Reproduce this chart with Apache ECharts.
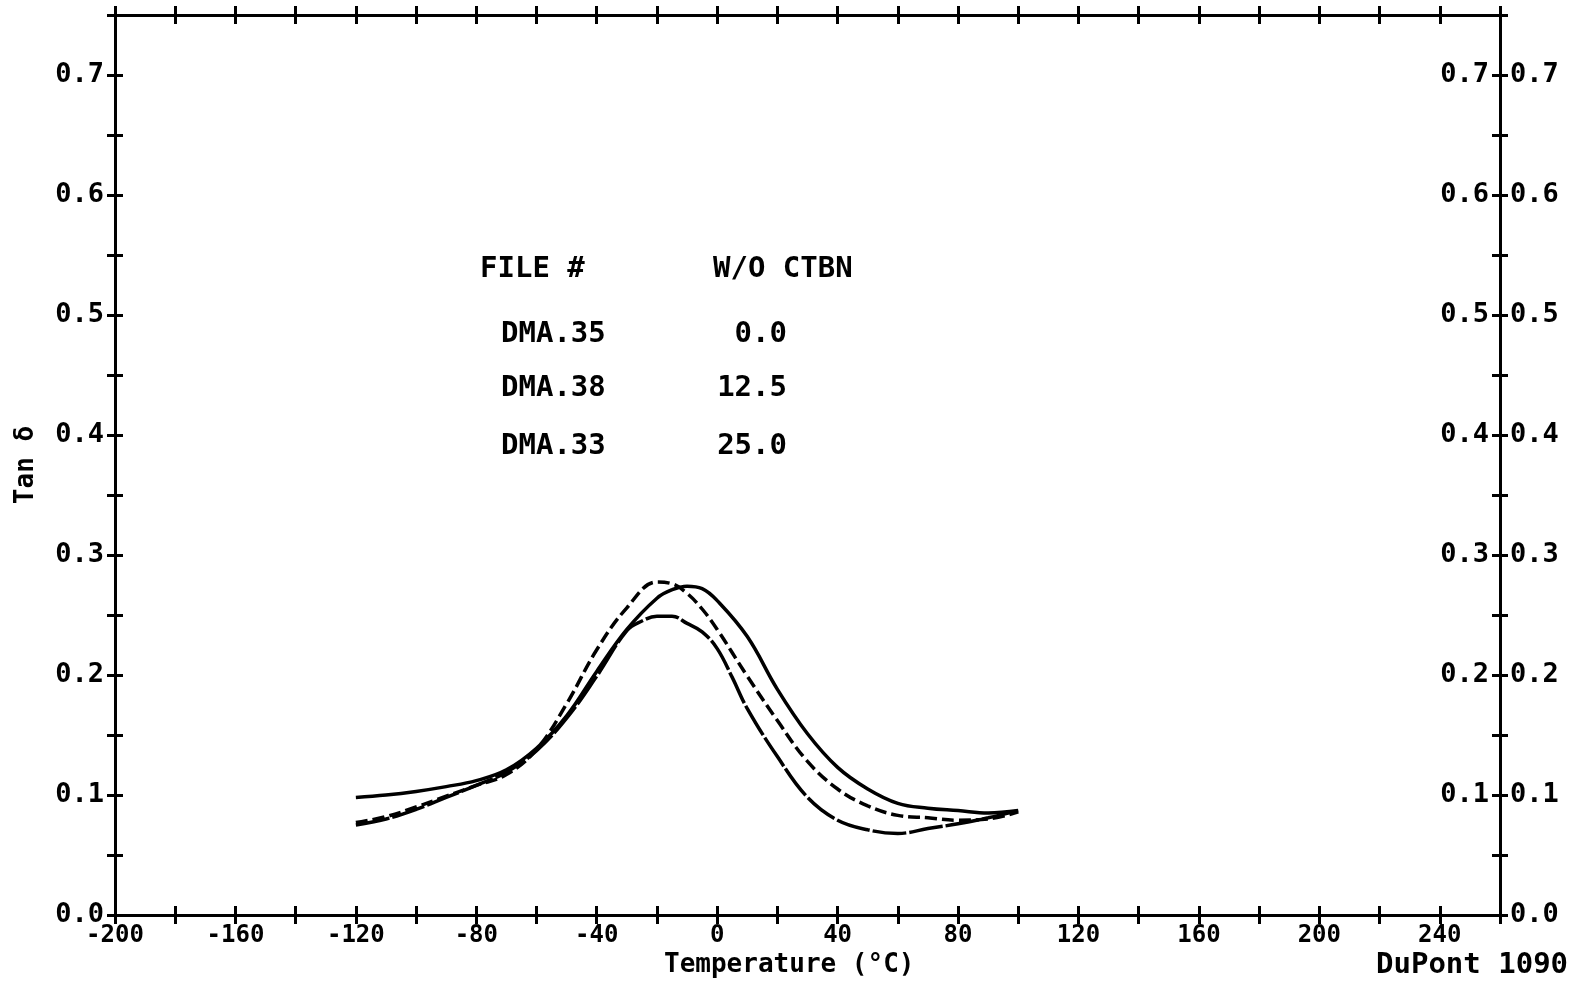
<!DOCTYPE html>
<html>
<head>
<meta charset="utf-8">
<title>Tan δ - Temperature</title>
<script src="https://cdn.jsdelivr.net/npm/echarts@6/dist/echarts.min.js"></script>
<style>
html,body{margin:0;padding:0;background:#fff;}
#main{width:1590px;height:989px;}
</style>
</head>
<body>
<div id="main"></div>
<script>
/*数据*/
//实线
var tempSolid = [-120,-110,-100,-90,-80,-70,-60,-50,-40,-30,-20,-15,-10,-5,0,10,20,30,40,50,60,70,80,90,100];
var tanSolid  = [0.098,0.100,0.103,0.107,0.112,0.121,0.139,0.166,0.203,0.238,0.264,0.271,0.274,0.272,0.262,0.232,0.188,0.151,0.123,0.105,0.093,0.089,0.087,0.085,0.087];
//虚线
var tempDash = [-120,-110,-100,-90,-80,-70,-60,-50,-40,-30,-20,-15,-10,-5,0,10,20,30,40,50,60,70,80,90,100];
var tanDash  = [0.077,0.082,0.090,0.099,0.108,0.117,0.138,0.176,0.221,0.256,0.2775,0.276,0.268,0.255,0.238,0.199,0.162,0.128,0.105,0.091,0.083,0.081,0.079,0.080,0.086];
//下面那条
var tempLow = [-120,-110,-100,-90,-80,-70,-60,-50,-40,-30,-25,-20,-15,-10,-5,0,5,10,20,30,40,50,60,70,80,90,100];
var tanLow  = [0.075,0.080,0.088,0.098,0.108,0.119,0.137,0.164,0.199,0.237,0.245,0.249,0.249,0.243,0.236,0.222,0.198,0.172,0.132,0.098,0.079,0.071,0.068,0.072,0.076,0.081,0.087];

var xLabelValues = [-200,-160,-120,-80,-40,0,40,80,120,160,200,240];
var yLabelValues = [0.0,0.1,0.2,0.3,0.4,0.5,0.6,0.7];

var fileNames = ["DMA.35","DMA.38","DMA.33"];
var ctbnValues = ["0.0","12.5","25.0"];

var plotFont = "DejaVu Sans Mono";

function toPairs(xs, ys) {
    var arr = [];
    for (var i = 0; i < xs.length; i++) {
        arr.push([xs[i], ys[i]]);
    }
    return arr;
}

function xLabelFun(v) {
    return xLabelValues.indexOf(Math.round(v)) > -1 ? String(Math.round(v)) : "";
}

function yLabelFun(v) {
    var r = Math.round(v * 100) / 100;
    for (var i = 0; i < yLabelValues.length; i++) {
        if (Math.abs(yLabelValues[i] - r) < 1e-6) return r.toFixed(1);
    }
    return "";
}

function yLabelInsideFun(v) {
    if (Math.abs(v) < 1e-6) return "";
    return yLabelFun(v);
}

function extend(a, b) {
    for (var k in b) { a[k] = b[k]; }
    return a;
}

var xLabelStyle = {color:'#000', fontFamily:plotFont, fontWeight:'bold', fontSize:24};
var yLabelStyle = {color:'#000', fontFamily:plotFont, fontWeight:'bold', fontSize:27};
var lineBlack = {color:'#000', width:3};

//坐标轴
function makeX(pos, inside, withLine, withLabel) {
    return {
        type:'value', position:pos, min:-200, max:260, interval:20,
        axisLine:{show:withLine, onZero:false, lineStyle:lineBlack},
        axisTick:{show:true, inside:inside, length:9, lineStyle:lineBlack},
        axisLabel:withLabel ? extend({show:true, margin:9, formatter:xLabelFun}, xLabelStyle) : {show:false},
        splitLine:{show:false}
    };
}

function makeY(pos, inside, withLine, label) {
    return {
        type:'value', position:pos, min:0, max:0.75, interval:0.05,
        axisLine:{show:withLine, onZero:false, lineStyle:lineBlack},
        axisTick:{show:true, inside:inside, length:8, lineStyle:lineBlack},
        axisLabel:label ? label : {show:false},
        splitLine:{show:false}
    };
}

var yLeft = makeY('left', false, true, extend({show:true, margin:11, formatter:yLabelFun}, yLabelStyle));
yLeft.name = "Tan δ";
yLeft.nameLocation = 'middle';
yLeft.nameGap = 76;
yLeft.nameRotate = 90;
yLeft.nameTextStyle = {color:'#000', fontFamily:plotFont, fontWeight:'bold', fontSize:26};

var option = {
    backgroundColor:'#fff',
    animation:false,
    grid:{left:115, right:90, top:15, bottom:74, containLabel:false},
    xAxis:[
        makeX('bottom', false, true, true),
        makeX('bottom', true, false, false),
        makeX('top', false, true, false),
        makeX('top', true, false, false)
    ],
    yAxis:[
        yLeft,
        makeY('left', true, false, null),
        makeY('right', false, true, extend({show:true, margin:10, formatter:yLabelFun}, yLabelStyle)),
        makeY('right', true, false, extend({show:true, inside:true, margin:11, formatter:yLabelInsideFun}, yLabelStyle))
    ],
    series:[
        {
            name:fileNames[0], type:'line', xAxisIndex:0, yAxisIndex:0,
            data:toPairs(tempSolid, tanSolid), smooth:0.4, showSymbol:false,
            lineStyle:{color:'#000', width:3.5}
        },
        {
            name:fileNames[1], type:'line', xAxisIndex:0, yAxisIndex:0,
            data:toPairs(tempDash, tanDash), smooth:0.4, showSymbol:false,
            lineStyle:{color:'#000', width:3.5, type:[12,5]}
        },
        {
            name:fileNames[2], type:'line', xAxisIndex:0, yAxisIndex:0,
            data:toPairs(tempLow, tanLow), smooth:0.4, showSymbol:false,
            lineStyle:{color:'#000', width:3.5, type:[34,3]}
        }
    ],
    graphic:[
        //图例文字
        {type:'text', left:480, top:255, style:{text:"FILE #", fill:'#000', font:"bold 29px " + plotFont}},
        {type:'text', left:713, top:255, style:{text:"W/O CTBN", fill:'#000', font:"bold 29px " + plotFont}},
        {type:'text', left:501, top:320, style:{text:fileNames[0], fill:'#000', font:"bold 29px " + plotFont}},
        {type:'text', right:1590 - 787, top:320, style:{text:ctbnValues[0], fill:'#000', font:"bold 29px " + plotFont}},
        {type:'text', left:501, top:374, style:{text:fileNames[1], fill:'#000', font:"bold 29px " + plotFont}},
        {type:'text', right:1590 - 787, top:374, style:{text:ctbnValues[1], fill:'#000', font:"bold 29px " + plotFont}},
        {type:'text', left:501, top:432, style:{text:fileNames[2], fill:'#000', font:"bold 29px " + plotFont}},
        {type:'text', right:1590 - 787, top:432, style:{text:ctbnValues[2], fill:'#000', font:"bold 29px " + plotFont}},
        //底部文字
        {type:'text', left:664, top:952, style:{text:"Temperature (°C)", fill:'#000', font:"bold 26px " + plotFont}},
        {type:'text', left:1376, top:951, style:{text:"DuPont 1090", fill:'#000', font:"bold 29px " + plotFont}}
    ]
};

var myChart = echarts.init(document.getElementById('main'));
myChart.setOption(option);
</script>
</body>
</html>
